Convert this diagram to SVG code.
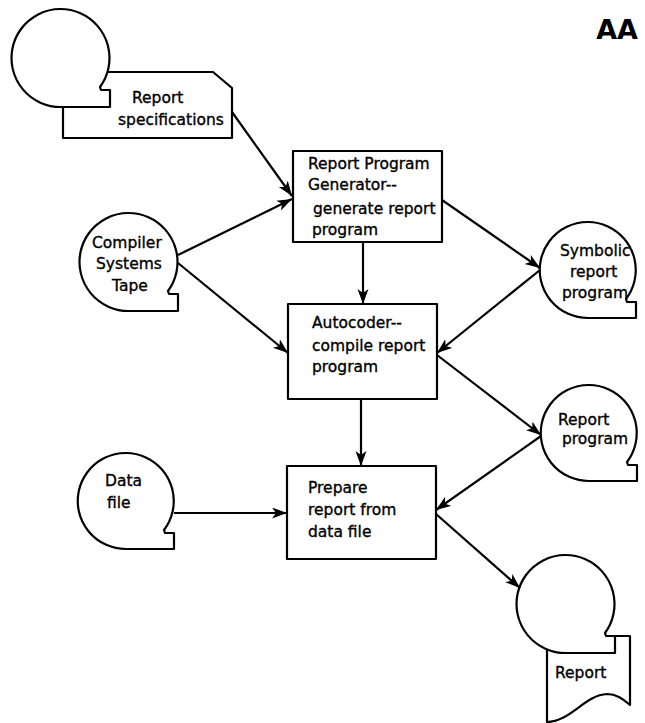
<svg xmlns="http://www.w3.org/2000/svg" width="645" height="723" viewBox="0 0 645 723">
<style>
.sh{fill:#fff;stroke:#000;stroke-width:2.2;stroke-linejoin:round}
.t{font-family:"DejaVu Sans",sans-serif;font-size:15.5px;fill:#000;stroke:#000;stroke-width:0.35}
.c line{stroke:#000;stroke-width:2.2;marker-end:url(#ah)}
</style>
<defs>
<marker id="ah" markerUnits="userSpaceOnUse" markerWidth="17" markerHeight="12" refX="15" refY="5.5" orient="auto">
<path d="M0,0 L15,5.5 L0,11 L4,5.5 Z" fill="#000"/>
</marker>
</defs>
<rect width="645" height="723" fill="#fff"/>
<text x="638" y="39" text-anchor="end" style="font-family:'DejaVu Sans',sans-serif;font-size:27px;font-weight:bold">AA</text>
<g id="report-specifications">
<path class="sh" d="M63,72 L213,72 L232,88 L232,138 L63,138 Z"/>
<path class="sh" d="M100,87 A49,49 0 1 0 61,107 L110,107 L110,90 L101,90 Z"/>
<text class="t" x="132" y="103">Report</text>
<text class="t" x="118" y="125">specifications</text>
</g>
<g id="compiler-systems-tape">
<path class="sh" d="M168,291 A49,49 0 1 0 129,311 L178,311 L178,294 L169,294 Z"/>
<text class="t" x="92" y="248">Compiler</text>
<text class="t" x="96" y="269">Systems</text>
<text class="t" x="112" y="291">Tape</text>
</g>
<g id="rpg">
<rect class="sh" x="293" y="151" width="149" height="91"/>
<text class="t" x="308" y="169">Report Program</text>
<text class="t" x="308" y="190">Generator--</text>
<text class="t" x="313" y="214">generate report</text>
<text class="t" x="312" y="235">program</text>
</g>
<g id="symbolic-report-program">
<path class="sh" d="M626,299 A48,48 0 1 0 588,318 L636,318 L636,302 L627,302 Z"/>
<text class="t" x="560" y="256">Symbolic</text>
<text class="t" x="570" y="277">report</text>
<text class="t" x="562" y="298">program</text>
</g>
<g id="autocoder">
<rect class="sh" x="288" y="304" width="149" height="95"/>
<text class="t" x="312" y="328">Autocoder--</text>
<text class="t" x="312" y="351">compile report</text>
<text class="t" x="312" y="372">program</text>
</g>
<g id="report-program">
<path class="sh" d="M627,462 A48,48 0 1 0 589,481 L637,481 L637,465 L628,465 Z"/>
<text class="t" x="558" y="425">Report</text>
<text class="t" x="562" y="444">program</text>
</g>
<g id="data-file">
<path class="sh" d="M164,530 A48,48 0 1 0 126,549 L174,549 L174,533 L165,533 Z"/>
<text class="t" x="105" y="486">Data</text>
<text class="t" x="107" y="508">file</text>
</g>
<g id="prepare">
<rect class="sh" x="287" y="466" width="149" height="93"/>
<text class="t" x="308" y="493">Prepare</text>
<text class="t" x="308" y="515">report from</text>
<text class="t" x="308" y="537">data file</text>
</g>
<g id="report">
<path class="sh" d="M547,636 L630,636 L630,705 C625,701 618,694 607,694 C585,695 570,722 547,722 Z"/>
<path class="sh" d="M605,633 A49,49 0 1 0 566,653 L615,653 L615,636 L606,636 Z"/>
<text class="t" x="555" y="678">Report</text>
</g>
<g id="connectors" class="c">
<line x1="232" y1="112" x2="292" y2="196"/>
<line x1="178" y1="255" x2="292" y2="199"/>
<line x1="178" y1="263" x2="288" y2="353"/>
<line x1="363" y1="242" x2="363" y2="304"/>
<line x1="442" y1="200" x2="540" y2="268"/>
<line x1="540" y1="270" x2="437" y2="353"/>
<line x1="437" y1="355" x2="541" y2="435"/>
<line x1="361" y1="399" x2="361" y2="466"/>
<line x1="541" y1="436" x2="436" y2="510"/>
<line x1="174" y1="513" x2="287" y2="513"/>
<line x1="436" y1="514" x2="520" y2="588"/>
</g>
</svg>
